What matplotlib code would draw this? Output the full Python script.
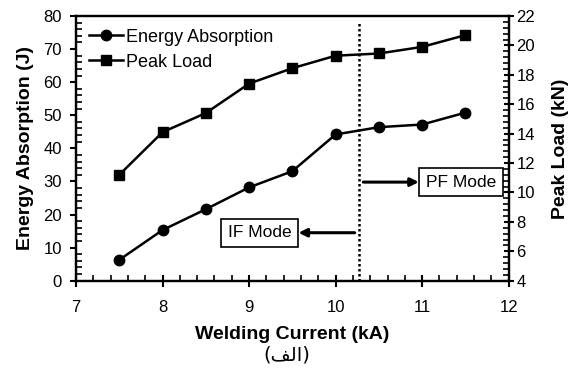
import matplotlib.pyplot as plt
from matplotlib.ticker import MultipleLocator

# data
current = [7.5, 8.0, 8.5, 9.0, 9.5, 10.0, 10.5, 11.0, 11.5]
energy = [6.3, 15.3, 21.6, 28.2, 33.1, 44.2, 46.4, 47.2, 50.8]
peak_load = [11.2, 14.1, 15.4, 17.4, 18.45, 19.3, 19.45, 19.9, 20.7]
mode_boundary = 10.27

plt.rcParams['font.family'] = ['Liberation Sans', 'DejaVu Sans']

fig = plt.figure(figsize=(5.73, 3.74), dpi=100)
ax = fig.add_axes([76 / 573, 1 - 280.7 / 374, 432.7 / 573, 264.7 / 374])
ax2 = ax.twinx()

l1, = ax.plot(current, energy, color='black', lw=1.8, marker='o', ms=7.5,
              label='Energy Absorption')
l2, = ax2.plot(current, peak_load, color='black', lw=1.8, marker='s', ms=7,
               label='Peak Load')

ax.set_xlim(7, 12)
ax.set_ylim(0, 80)
ax2.set_ylim(4, 22)

ax.xaxis.set_major_locator(MultipleLocator(1))
ax.xaxis.set_minor_locator(MultipleLocator(0.2))
ax.yaxis.set_major_locator(MultipleLocator(10))
ax.yaxis.set_minor_locator(MultipleLocator(2))
ax2.yaxis.set_major_locator(MultipleLocator(2))
ax2.yaxis.set_minor_locator(MultipleLocator(0.4))

ax.tick_params(axis='x', which='major', direction='inout', length=8, width=1.5,
               labelsize=12, pad=10)
ax.tick_params(axis='x', which='minor', direction='in', length=4, width=1.2)
ax.tick_params(axis='y', which='major', direction='out', length=4, width=1.5,
               labelsize=12, pad=6)
ax.tick_params(axis='y', which='minor', direction='in', length=4, width=1.2)
ax2.tick_params(axis='y', which='major', direction='inout', length=7, width=1.5,
                labelsize=12, pad=2)
ax2.tick_params(axis='y', which='minor', direction='in', length=4, width=1.2)

for a in (ax, ax2):
    for s in a.spines.values():
        s.set_linewidth(1.6)

ax.set_xlabel('Welding Current (kA)', fontsize=14, fontweight='bold', labelpad=8)
ax.set_ylabel('Energy Absorption (J)', fontsize=14, fontweight='bold', labelpad=7)
ax2.set_ylabel('Peak Load (kN)', fontsize=14, fontweight='bold', labelpad=12)

# boundary between interfacial and pullout failure
ax.plot([mode_boundary, mode_boundary], [0, 78], color='black', lw=1.8,
        linestyle=(0, (1, 1)))

box = dict(boxstyle='square,pad=0.38', fc='white', ec='black', lw=1.2)
ax.annotate('PF Mode', xy=(mode_boundary + 0.05, 29.8), xytext=(11.45, 29.8),
            ha='center', va='center', fontsize=12.5, bbox=box,
            arrowprops=dict(arrowstyle='<|-', color='black', lw=2.2,
                            mutation_scale=12, shrinkA=0, shrinkB=0))
ax.annotate('IF Mode', xy=(mode_boundary - 0.05, 14.5), xytext=(9.12, 14.5),
            ha='center', va='center', fontsize=12.5, bbox=box,
            arrowprops=dict(arrowstyle='<|-', color='black', lw=2.2,
                            mutation_scale=12, shrinkA=0, shrinkB=0))

ax.legend(handles=[l1, l2], loc='upper left', frameon=False, fontsize=13,
          handlelength=1.9, handletextpad=0.15, labelspacing=0.45,
          borderaxespad=0.3)

# caption "(الف)" written in shaped presentation forms, visual order
fig.text(0.5, 1 - 355 / 374, '(\uFED2\uFEDF\uFE8D)', ha='center', va='center',
         fontsize=14, family=['DejaVu Sans'])

fig.savefig('out.png', dpi=100)
